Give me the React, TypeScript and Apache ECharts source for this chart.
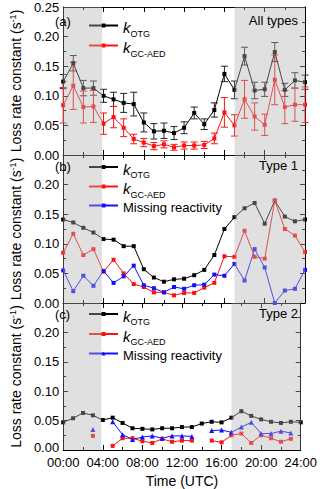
import React, { useEffect, useRef } from "react";
import * as echarts from "echarts";

// ---------- data ----------
const HOURS = [0, 1, 2, 3, 4, 5, 6, 7, 8, 9, 10, 11, 12, 13, 14, 15, 16, 17, 18, 19, 20, 21, 22, 23, 24];

// (a) All types
const A_OTG = [0.124, 0.155, 0.113, 0.113, 0.100, 0.094, 0.088, 0.086, 0.055, 0.040, 0.041, 0.037, 0.046, 0.071, 0.052, 0.076, 0.137, 0.110, 0.167, 0.109, 0.111, 0.174, 0.110, 0.126, 0.123];
const A_OTG_ERR = [0.012, 0.013, 0.013, 0.012, 0.011, 0.012, 0.016, 0.020, 0.016, 0.013, 0.013, 0.011, 0.010, 0.010, 0.009, 0.012, 0.013, 0.015, 0.015, 0.014, 0.012, 0.016, 0.011, 0.013, 0.012];
const A_GC = [0.084, 0.117, 0.081, 0.082, 0.053, 0.064, 0.046, 0.027, 0.021, 0.015, 0.018, 0.013, 0.016, 0.016, 0.017, 0.028, 0.072, 0.050, 0.094, 0.065, 0.051, 0.127, 0.081, 0.085, 0.085];
const A_GC_ERR = [0.030, 0.040, 0.027, 0.027, 0.018, 0.018, 0.015, 0.008, 0.007, 0.006, 0.006, 0.005, 0.006, 0.006, 0.006, 0.009, 0.025, 0.018, 0.032, 0.023, 0.018, 0.042, 0.028, 0.028, 0.030];

// (b) Type 1
const B_OTG = [0.141, 0.136, 0.127, 0.119, 0.108, 0.107, 0.096, 0.096, 0.057, 0.043, 0.036, 0.040, 0.041, 0.047, 0.056, 0.081, 0.125, 0.145, 0.160, 0.169, 0.134, 0.173, 0.146, 0.138, 0.141];
const B_GC = [0.085, 0.117, 0.081, 0.091, 0.053, 0.073, 0.050, 0.032, 0.027, 0.018, 0.018, 0.013, 0.017, 0.017, 0.026, 0.034, 0.079, 0.078, 0.122, 0.078, 0.075, 0.173, 0.125, 0.114, 0.086];
const B_MISS = [0.055, 0.020, 0.046, 0.029, 0.054, 0.034, 0.045, 0.063, 0.030, 0.025, 0.018, 0.027, 0.024, 0.030, 0.031, 0.048, 0.046, 0.066, 0.038, 0.091, 0.060, 0.000, 0.021, 0.024, 0.056];

// (c) Type 2
const C_OTG = [0.047, 0.054, 0.063, 0.059, 0.051, 0.055, 0.046, 0.037, 0.036, 0.035, 0.037, 0.037, 0.039, 0.039, 0.045, 0.048, 0.047, 0.055, 0.066, 0.058, 0.052, 0.048, 0.046, 0.048, 0.047];
const C_GC = [null, null, null, 0.024, null, 0.007, 0.020, 0.020, 0.015, 0.012, 0.019, 0.014, 0.016, 0.016, null, 0.016, 0.013, 0.025, 0.028, 0.012, 0.025, 0.020, 0.014, 0.019, null];
const C_MISS = [null, null, null, 0.035, null, 0.048, 0.026, 0.018, 0.022, 0.024, 0.020, 0.024, 0.024, 0.023, null, 0.033, 0.034, 0.030, 0.039, 0.047, 0.028, 0.028, 0.032, 0.029, null];

const NIGHT_RANGES = [[0, 3.85], [17, 24]];
const PANEL_LETTERS = ["(a)", "(b)", "(c)"];
const PANEL_TITLES = ["All types", "Type 1", "Type 2"];
const Y_TITLE = "Loss rate constant (s";

const FONT = "'Liberation Sans', Arial, Helvetica, sans-serif";
const BLACK = "#000000";
const RED = "#ff1010";
const BLUE = "#1010ff";

const pairs = (vals: (number | null)[]) => HOURS.map((h, i) => [h, vals[i] === null ? "-" : vals[i]]);
const triples = (vals: number[], errs: number[]) => HOURS.map((h, i) => [h, vals[i], errs[i]]);

const GRID_TOPS = [7, 155, 303];
const GRID_H = 148;

export default function App() {
  const ref = useRef<HTMLDivElement>(null);
  useEffect(() => {
    if (!ref.current) return;
    const chart = echarts.init(ref.current, null, { renderer: "svg" });

    const grids = GRID_TOPS.map((t) => ({ left: 48, right: 15, top: t, height: GRID_H }));

    const xAxes: any[] = [];
    const yAxes: any[] = [];
    for (let i = 0; i < 3; i++) {
      const last = i === 2;
      const common = {
        type: "value",
        gridIndex: i,
        min: 0,
        max: 24,
        interval: 4,
        splitLine: { show: false },
        axisLine: { show: true, onZero: false, lineStyle: { color: "#000", width: 1 } },
        axisTick: { show: true, inside: true, length: 5, lineStyle: { color: "#000" } },
        minorTick: { show: true, splitNumber: 2, length: 3, lineStyle: { color: "#000" } },
      };
      xAxes.push({
        ...common,
        position: "bottom",
        axisLabel: {
          show: last,
          margin: 7,
          color: "#000",
          fontSize: 13,
          lineHeight: 11,
          fontFamily: FONT,
          formatter: (v: number) => (v < 10 ? "0" + v : "" + v) + ":00",
        },
        name: last ? "Time (UTC)" : "",
        nameLocation: "middle",
        nameGap: 24,
        nameTextStyle: { color: "#000", fontSize: 14, fontFamily: FONT },
      });
      xAxes.push({ ...common, position: "top", axisLabel: { show: false } });

      const ycommon = {
        type: "value",
        gridIndex: i,
        min: 0,
        max: 0.25,
        interval: 0.05,
        splitLine: { show: false },
        axisLine: { show: true, onZero: false, lineStyle: { color: "#000", width: 1 } },
        axisTick: { show: true, inside: true, length: 5, lineStyle: { color: "#000" } },
        minorTick: { show: true, splitNumber: 2, length: 3, lineStyle: { color: "#000" } },
      };
      yAxes.push({
        ...ycommon,
        position: "left",
        axisLabel: {
          show: true,
          margin: 4,
          color: "#000",
          fontSize: 13,
          lineHeight: 11,
          fontFamily: FONT,
          showMaxLabel: i === 0,
          formatter: (v: number) => (last && v === 0 ? "{z|0.00}" : v.toFixed(2)),
          rich: {
            z: { fontSize: 13, fontFamily: FONT, color: "#000", lineHeight: 11, padding: [0, 0, 5, 0] },
          },
        },
        name: "{t|" + Y_TITLE + "}{s|-1}{t|)}",
        nameLocation: "middle",
        nameGap: 33,
        nameTextStyle: {
          color: "#000",
          fontFamily: FONT,
          rich: {
            t: { fontSize: 14, fontFamily: FONT, color: "#000", lineHeight: 16 },
            s: { fontSize: 9, fontFamily: FONT, color: "#000", verticalAlign: "top", lineHeight: 16 },
          },
        },
      });
      yAxes.push({ ...ycommon, position: "right", axisLabel: { show: false } });
    }

    const lineSeries = (name: string, gi: number, vals: (number | null)[], color: string, symbol = "rect", size = 4) => ({
      type: "line",
      name,
      xAxisIndex: gi * 2,
      yAxisIndex: gi * 2,
      data: pairs(vals),
      symbol,
      symbolSize: size,
      showAllSymbol: true,
      connectNulls: false,
      lineStyle: { color, width: 1 },
      itemStyle: { color },
      z: 4,
    });

    const errSeries = (gi: number, vals: number[], errs: number[], color: string) => ({
      type: "custom",
      xAxisIndex: gi * 2,
      yAxisIndex: gi * 2,
      data: triples(vals, errs),
      z: 3,
      silent: true,
      renderItem: (params: any, api: any) => {
        const x = api.value(0);
        const y = api.value(1);
        const e = api.value(2);
        const top = api.coord([x, y + e]);
        const bot = api.coord([x, y - e]);
        const w = 3.5;
        const st = { stroke: color, lineWidth: 1 };
        return {
          type: "group",
          children: [
            { type: "line", shape: { x1: top[0], y1: top[1], x2: bot[0], y2: bot[1] }, style: st },
            { type: "line", shape: { x1: top[0] - w, y1: top[1], x2: top[0] + w, y2: top[1] }, style: st },
            { type: "line", shape: { x1: bot[0] - w, y1: bot[1], x2: bot[0] + w, y2: bot[1] }, style: st },
          ],
        };
      },
    });

    const shadeSeries = (gi: number) => ({
      type: "line",
      xAxisIndex: gi * 2,
      yAxisIndex: gi * 2,
      data: [],
      silent: true,
      z: 10,
      markArea: {
        silent: true,
        z: 10,
        itemStyle: { color: "rgba(178,178,178,0.4)" },
        data: NIGHT_RANGES.map((r) => [{ xAxis: r[0] }, { xAxis: r[1] }]),
      },
    });

    const series: any[] = [
      errSeries(0, A_OTG, A_OTG_ERR, "#222"),
      errSeries(0, A_GC, A_GC_ERR, RED),
      lineSeries("a_otg", 0, A_OTG, BLACK),
      lineSeries("a_gc", 0, A_GC, RED),
      lineSeries("b_otg", 1, B_OTG, BLACK),
      lineSeries("b_gc", 1, B_GC, RED),
      lineSeries("b_miss", 1, B_MISS, BLUE),
      lineSeries("c_otg", 2, C_OTG, BLACK),
      lineSeries("c_gc", 2, C_GC, RED),
      lineSeries("c_miss", 2, C_MISS, BLUE, "triangle", 5),
      shadeSeries(0),
      shadeSeries(1),
      shadeSeries(2),
    ];

    const LABELS: Record<string, string> = {
      a_otg: "{k|k}{s|OTG}",
      a_gc: "{k|k}{s|GC-AED}",
      b_otg: "{k|k}{s|OTG}",
      b_gc: "{k|k}{s|GC-AED}",
      b_miss: "{m|Missing reactivity}",
      c_otg: "{k|k}{s|OTG}",
      c_gc: "{k|k}{s|GC-AED}",
      c_miss: "{m|Missing reactivity}",
    };
    const LEGEND_ROWS: [string, number][] = [
      ["a_otg", 22.5],
      ["a_gc", 42.5],
      ["b_otg", 164],
      ["b_gc", 183.5],
      ["b_miss", 203],
      ["c_otg", 311],
      ["c_gc", 331],
      ["c_miss", 351],
    ];
    const ITEM_H = 5;
    const legends = LEGEND_ROWS.map(([name, y]) => ({
      data: [name],
      left: 88,
      top: y - ITEM_H / 2,
      padding: 0,
      itemWidth: 29,
      itemHeight: ITEM_H,
      selectedMode: false,
      formatter: (n: string) => LABELS[n],
      textStyle: {
        color: "#000",
        fontFamily: FONT,
        padding: [3, 0, 0, 0],
        rich: {
          k: { fontSize: 15, fontStyle: "italic", fontFamily: FONT, color: "#000", lineHeight: 16, verticalAlign: "bottom" },
          s: { fontSize: 9, fontFamily: FONT, color: "#000", lineHeight: 16, verticalAlign: "bottom", padding: [0, 0, -3, 0] },
          m: { fontSize: 13, fontFamily: FONT, color: "#000", lineHeight: 16 },
        },
      },
    }));

    const graphics: any[] = [];
    for (let i = 0; i < 3; i++) {
      const cy = [23, 168, 316][i];
      graphics.push({
        type: "text",
        left: 55,
        top: cy - 8,
        z: 100,
        style: { text: PANEL_LETTERS[i], fontSize: 13, fontFamily: FONT, fill: "#000" },
      });
      graphics.push({
        type: "text",
        right: 22,
        top: cy - 9,
        z: 100,
        style: { text: PANEL_TITLES[i], fontSize: 13, fontFamily: FONT, fill: "#000" },
      });
    }

    chart.setOption({
      animation: false,
      backgroundColor: "#ffffff",
      textStyle: { fontFamily: FONT },
      grid: grids,
      xAxis: xAxes,
      yAxis: yAxes,
      legend: legends,
      series,
      graphic: graphics,
    });
    return () => chart.dispose();
  }, []);

  return <div ref={ref} style={{ position: "fixed", left: 0, top: 0, width: 320, height: 489 }} />;
}
